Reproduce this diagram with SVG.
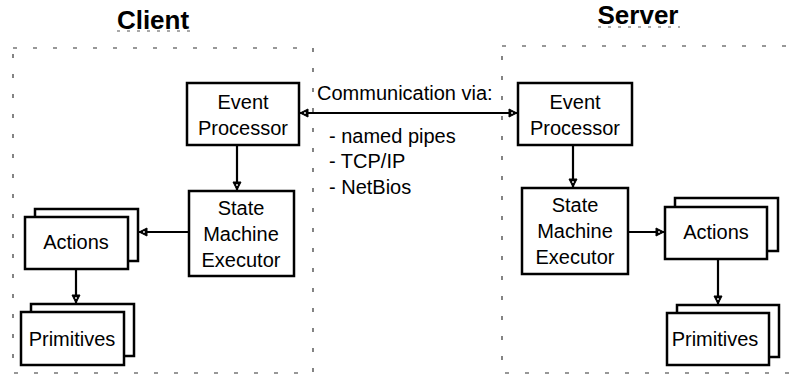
<svg xmlns="http://www.w3.org/2000/svg" width="791" height="376" viewBox="0 0 791 376">
  <style>
    .zone { fill: none; stroke: #333; stroke-width: 1.2; stroke-dasharray: 4 16; }
    .uline { fill: none; stroke: #555; stroke-width: 1.2; stroke-dasharray: 3 7; }
    .box { fill: #fff; stroke: #000; stroke-width: 2.5; }
    .lbl { font-family: "Liberation Sans", Arial, sans-serif; font-size: 20px; fill: #000; text-anchor: middle; }
    .note { font-family: "Liberation Sans", Arial, sans-serif; font-size: 20px; fill: #000; }
    .title { font-family: "Liberation Sans", Arial, sans-serif; font-size: 26px; font-weight: bold; fill: #000; text-anchor: middle; }
    .wire { fill: none; stroke: #000; stroke-width: 2.2; }
  </style>
  <defs>
    <marker id="tip" markerUnits="userSpaceOnUse" markerWidth="10" markerHeight="10" viewBox="0 0 10 10" refX="9" refY="5" orient="auto-start-reverse">
      <path d="M1,1 L9,5 L1,9 Z" fill="#000" stroke="#000" stroke-width="1"/>
      <circle cx="4" cy="5" r="0.9" fill="#fff"/>
    </marker>
  </defs>

  <!-- process zones -->
  <g id="client-zone">
    <rect class="zone" x="13" y="48" width="300" height="325"/>
    <text class="title" x="153" y="29">Client</text>
    <line class="uline" x1="117" y1="31" x2="191" y2="31"/>
  </g>
  <g id="server-zone">
    <rect class="zone" x="502" y="46" width="320" height="327"/>
    <text class="title" x="638" y="24">Server</text>
    <line class="uline" x1="598" y1="27" x2="680" y2="27"/>
  </g>

  <!-- client side -->
  <g id="client-event-processor">
    <rect class="box" x="187" y="83" width="112" height="62"/>
    <text class="lbl" x="243" y="109">Event</text>
    <text class="lbl" x="243" y="135">Processor</text>
  </g>
  <g id="client-state-machine">
    <rect class="box" x="189" y="191" width="105" height="85"/>
    <text class="lbl" x="241" y="215">State</text>
    <text class="lbl" x="241" y="241">Machine</text>
    <text class="lbl" x="241" y="267">Executor</text>
  </g>
  <g id="client-actions">
    <rect class="box" x="35" y="209" width="103" height="52"/>
    <rect class="box" x="25" y="217" width="103" height="52"/>
    <text class="lbl" x="76" y="249">Actions</text>
  </g>
  <g id="client-primitives">
    <rect class="box" x="31" y="304" width="103" height="52"/>
    <rect class="box" x="21" y="312" width="103" height="53"/>
    <text class="lbl" x="72" y="346">Primitives</text>
  </g>

  <!-- server side -->
  <g id="server-event-processor">
    <rect class="box" x="518" y="83" width="114" height="62"/>
    <text class="lbl" x="575" y="109">Event</text>
    <text class="lbl" x="575" y="135">Processor</text>
  </g>
  <g id="server-state-machine">
    <rect class="box" x="522" y="188" width="106" height="86"/>
    <text class="lbl" x="575" y="212">State</text>
    <text class="lbl" x="575" y="238">Machine</text>
    <text class="lbl" x="575" y="264">Executor</text>
  </g>
  <g id="server-actions">
    <rect class="box" x="675" y="198" width="103" height="53"/>
    <rect class="box" x="665" y="207" width="102" height="52"/>
    <text class="lbl" x="716" y="239">Actions</text>
  </g>
  <g id="server-primitives">
    <rect class="box" x="677" y="305" width="102" height="52"/>
    <rect class="box" x="667" y="313" width="102" height="52"/>
    <text class="lbl" x="715" y="346">Primitives</text>
  </g>

  <!-- transport note -->
  <g id="transport-note">
    <text class="note" x="317" y="100">Communication via:</text>
    <text class="note" x="329" y="143">- named pipes</text>
    <text class="note" x="329" y="168">- TCP/IP</text>
    <text class="note" x="329" y="194">- NetBios</text>
  </g>

  <!-- connectors -->
  <g id="connectors">
    <line class="wire" x1="300" y1="113" x2="517" y2="113" marker-start="url(#tip)" marker-end="url(#tip)"/>
    <line class="wire" x1="237" y1="146" x2="237" y2="190" marker-end="url(#tip)"/>
    <line class="wire" x1="188" y1="232" x2="139" y2="232" marker-end="url(#tip)"/>
    <line class="wire" x1="76" y1="270" x2="76" y2="303" marker-end="url(#tip)"/>
    <line class="wire" x1="573" y1="146" x2="573" y2="187" marker-end="url(#tip)"/>
    <line class="wire" x1="629" y1="232" x2="664" y2="232" marker-end="url(#tip)"/>
    <line class="wire" x1="718" y1="260" x2="718" y2="304" marker-end="url(#tip)"/>
  </g>
</svg>
